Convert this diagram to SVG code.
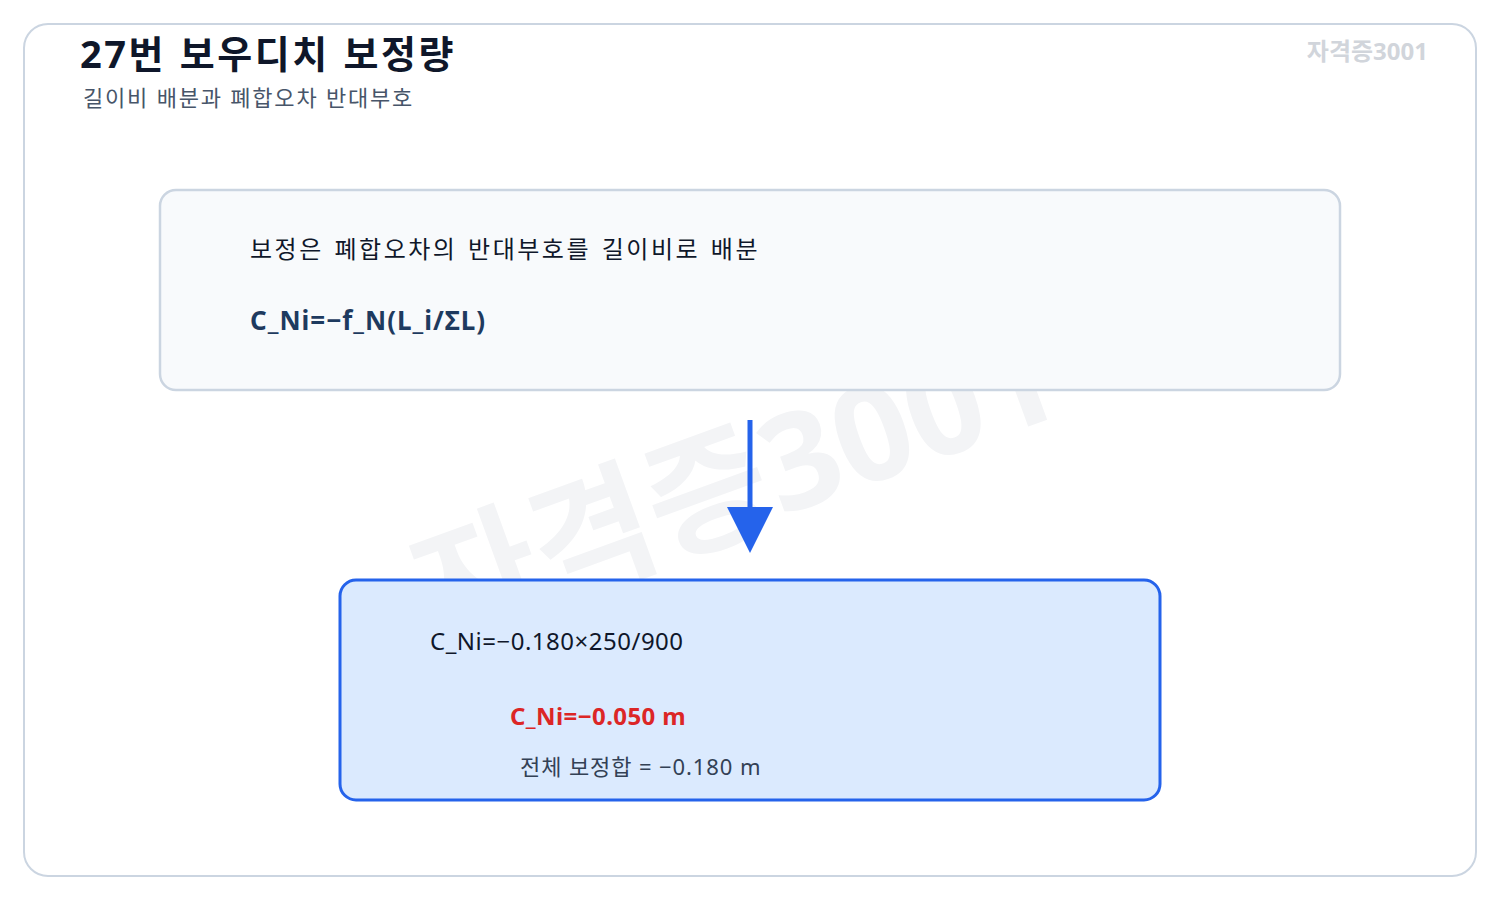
<svg xmlns="http://www.w3.org/2000/svg" width="1500" height="900" viewBox="0 0 1500 900">
<style>
text{font-family:"Noto Sans","Noto Sans CJK KR",sans-serif}
.title{font-size:38px;font-weight:700;fill:#0f172a;letter-spacing:2.5px;word-spacing:1.5px}
.sub{font-size:22px;fill:#475569;letter-spacing:1.8px}
.body{font-size:24px;fill:#0f172a;letter-spacing:2.5px;word-spacing:2px}
.formula{font-size:26px;font-weight:700;fill:#1e3a5f;letter-spacing:1px}
.calc{font-size:24px;fill:#0f172a;letter-spacing:0.5px}
.res{font-size:24px;font-weight:700;fill:#dc2626;letter-spacing:0.4px}
.note{font-size:22px;fill:#334155;letter-spacing:0.9px}
.wm{font-size:133px;font-weight:700;fill:#f3f4f6}
</style>
<rect x="24" y="24" width="1452" height="852" rx="24" fill="#ffffff" stroke="#cbd5e1" stroke-width="2"/>
<text class="wm" x="436" y="642" transform="rotate(-20 436 642)">자격증3001</text>
<g id="header">
<text class="title" x="80" y="68">27번 보우디치 보정량</text>
<text class="sub" x="83" y="106">길이비 배분과 폐합오차 반대부호</text>
<text x="1428" y="60" text-anchor="end" font-size="24" font-weight="700" fill="#d1d5db">자격증3001</text>
</g>
<g id="node-rule">
<rect x="160" y="190" width="1180" height="200" rx="16" fill="#f8fafc" stroke="#cbd5e1" stroke-width="2.5"/>
<text class="body" x="250" y="258">보정은 폐합오차의 반대부호를 길이비로 배분</text>
<text class="formula" x="250" y="330">C_Ni=−f_N(L_i/ΣL)</text>
</g>
<g id="connectors">
<line x1="750" y1="420" x2="750" y2="510" stroke="#2563eb" stroke-width="5"/>
<polygon points="727,507 773,507 750,553" fill="#2563eb"/>
</g>
<g id="node-result">
<rect x="340" y="580" width="820" height="220" rx="16" fill="#dbeafe" stroke="#2563eb" stroke-width="3"/>
<text class="calc" x="430" y="650">C_Ni=−0.180×250/900</text>
<text class="res" x="510" y="725">C_Ni=−0.050 m</text>
<text class="note" x="520" y="775">전체 보정합 = −0.180 m</text>
</g>
</svg>
